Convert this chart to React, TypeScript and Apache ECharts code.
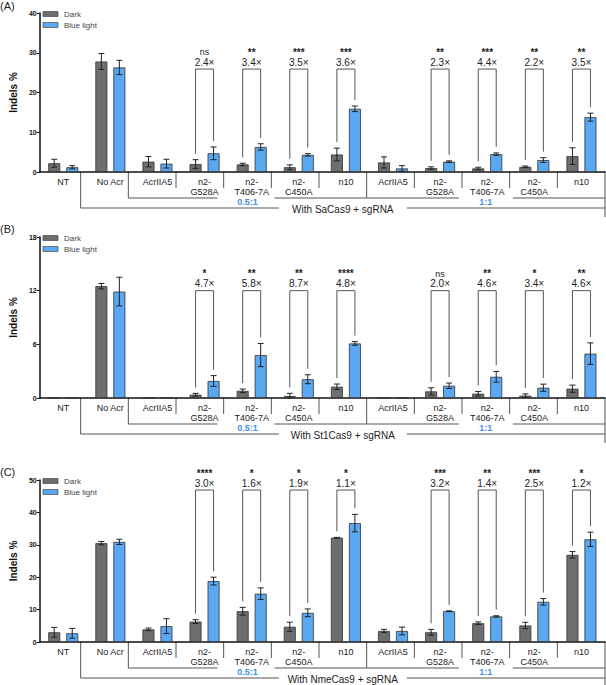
import { useEffect, useRef } from 'react';
import * as echarts from 'echarts';

const categories = ['NT', 'No Acr', 'AcrIIA5', 'n2-\nG528A', 'n2-\nT406-7A', 'n2-\nC450A', 'n10', 'AcrIIA5', 'n2-\nG528A', 'n2-\nT406-7A', 'n2-\nC450A', 'n10'];
const bracketGroups = [3, 4, 5, 6, 8, 9, 10, 11];

// Panel A (SaCas9)
const darkA = [2.2, 27.8, 2.6, 2.0, 1.9, 1.2, 4.4, 2.4, 1.0, 0.9, 1.3, 4.0];
const darkErrA = [1.0, 2.0, 1.3, 1.1, 0.3, 0.6, 1.6, 1.4, 0.3, 0.3, 0.2, 2.1];
const blueA = [1.2, 26.3, 2.1, 4.7, 6.3, 4.3, 15.9, 0.9, 2.6, 4.5, 3.0, 13.8];
const blueErrA = [0.4, 1.8, 1.1, 1.6, 0.8, 0.3, 0.7, 0.7, 0.2, 0.3, 0.6, 1.0];
const starsA = ['ns', '**', '***', '***', '**', '***', '**', '**'];
const foldA = ['2.4×', '3.4×', '3.5×', '3.6×', '2.3×', '4.4×', '2.2×', '3.5×'];

// Panel B (St1Cas9)
const darkB = [0, 12.5, 0, 0.37, 0.8, 0.22, 1.26, 0, 0.74, 0.48, 0.26, 1.04];
const darkErrB = [0, 0.3, 0, 0.15, 0.2, 0.3, 0.3, 0, 0.4, 0.25, 0.2, 0.4];
const blueB = [0, 11.9, 0, 1.9, 4.8, 2.1, 6.1, 0, 1.37, 2.37, 1.15, 4.96];
const blueErrB = [0, 1.6, 0, 0.6, 1.3, 0.5, 0.2, 0, 0.3, 0.6, 0.4, 1.2];
const starsB = ['*', '**', '**', '****', 'ns', '**', '*', '**'];
const foldB = ['4.7×', '5.8×', '8.7×', '4.8×', '2.0×', '4.6×', '3.4×', '4.6×'];

// Panel C (NmeCas9)
const darkC = [3.0, 30.5, 3.9, 6.3, 9.5, 4.7, 32.2, 3.4, 3.0, 5.8, 5.1, 26.9];
const darkErrC = [1.5, 0.5, 0.4, 0.6, 1.2, 1.4, 0.1, 0.5, 0.9, 0.4, 1.0, 1.0];
const blueC = [2.7, 30.9, 4.9, 18.8, 14.9, 9.0, 36.7, 3.4, 9.5, 7.9, 12.4, 31.7];
const blueErrC = [1.5, 0.8, 2.3, 1.2, 1.8, 1.2, 2.7, 1.2, 0.1, 0.2, 1.0, 2.2];
const starsC = ['****', '*', '*', '*', '***', '**', '***', '*'];
const foldC = ['3.0×', '1.6×', '1.9×', '1.1×', '3.2×', '1.4×', '2.5×', '1.2×'];

const FONT = '"Liberation Sans", Arial, sans-serif';
const DARK = '#6e6e6e';
const BLUE = '#5ba8f2';
const LINE = '#555';
const X0 = 33;
const X1 = 605;
const GW = (X1 - X0) / 12;

const panels = [
  { letter: '(A)', top: 13, bottom: 172, max: 40, interval: 10, bracket: 25.9, cas: 'SaCas9', dark: darkA, darkErr: darkErrA, blue: blueA, blueErr: blueErrA, stars: starsA, fold: foldA },
  { letter: '(B)', top: 237, bottom: 398, max: 18, interval: 6, bracket: 12, cas: 'St1Cas9', dark: darkB, darkErr: darkErrB, blue: blueB, blueErr: blueErrB, stars: starsB, fold: foldB },
  { letter: '(C)', top: 480, bottom: 642, max: 50, interval: 10, bracket: 46.9, cas: 'NmeCas9', dark: darkC, darkErr: darkErrC, blue: blueC, blueErr: blueErrC, stars: starsC, fold: foldC },
];

function errSeries(idx: number, vals: number[], errs: number[], dx: number) {
  return {
    type: 'custom',
    xAxisIndex: idx,
    yAxisIndex: idx,
    silent: true,
    z: 5,
    encode: { x: 0, y: 1 },
    data: vals.map((v, i) => [i, v, errs[i]]),
    renderItem: (_p: any, api: any) => {
      const v = api.value(1);
      const e = api.value(2);
      if (v === 0 && e === 0) return null;
      const c = api.coord([api.value(0), v]);
      const hi = api.coord([api.value(0), v + e]);
      const lo = api.coord([api.value(0), Math.max(0, v - e)]);
      const x = c[0] + dx;
      const s = { stroke: '#222', lineWidth: 1 };
      return {
        type: 'group',
        children: [
          { type: 'line', shape: { x1: x, y1: lo[1], x2: x, y2: hi[1] }, style: s },
          { type: 'line', shape: { x1: x - 3, y1: hi[1], x2: x + 3, y2: hi[1] }, style: s },
          { type: 'line', shape: { x1: x - 3, y1: lo[1], x2: x + 3, y2: lo[1] }, style: s },
        ],
      };
    },
  };
}

function bracketSeries(idx: number, p: any) {
  return {
    type: 'custom',
    xAxisIndex: idx,
    yAxisIndex: idx,
    silent: true,
    z: 6,
    encode: { x: 0, y: 1 },
    data: bracketGroups.map((g) => [g, p.dark[g] + p.darkErr[g], p.blue[g] + p.blueErr[g], p.bracket]),
    renderItem: (params: any, api: any) => {
      const g = api.value(0);
      const d = api.coord([g, api.value(1)]);
      const b = api.coord([g, api.value(2)]);
      const t = api.coord([g, api.value(3)]);
      const xl = d[0] - 9;
      const xr = d[0] + 9;
      const k = params.dataIndex;
      return {
        type: 'group',
        children: [
          { type: 'polyline', shape: { points: [[xl, d[1] - 6], [xl, t[1]], [xr, t[1]], [xr, b[1] - 6]] }, style: { stroke: LINE, lineWidth: 1, fill: 'none' } },
          { type: 'text', style: { text: p.fold[k], x: d[0], y: t[1] - 7, align: 'center', verticalAlign: 'middle', font: `10px ${FONT}`, fill: '#222' } },
          { type: 'text', style: { text: p.stars[k], x: d[0], y: t[1] - 17, align: 'center', verticalAlign: 'middle', font: `${p.stars[k] === 'ns' ? 'normal 9px' : 'bold 10px'} ${FONT}`, fill: '#222' } },
        ],
      };
    },
  };
}

function panelGraphics(p: any) {
  const y0 = p.bottom;
  const out: any[] = [];
  const ls = { stroke: LINE, lineWidth: 1 };
  const line = (x1: number, y1: number, x2: number, y2: number) => out.push({ type: 'line', shape: { x1, y1, x2, y2 }, style: ls });
  const sx = (k: number) => X0 + k * GW;
  for (let k = 1; k < 12; k++) {
    const depth = k === 1 ? 36 : k === 2 || k === 7 ? 26 : 16;
    line(sx(k), y0, sx(k), y0 + depth);
  }
  line(X1, y0, X1, y0 + 45);
  const c1 = sx(4.5);
  const c2 = sx(9.5);
  line(sx(2), y0 + 26, c1 - 30, y0 + 26);
  line(c1 + 27, y0 + 26, sx(7), y0 + 26);
  line(sx(7), y0 + 26, c2 - 27, y0 + 26);
  line(c2 + 27, y0 + 26, X1, y0 + 26);
  const cw = (sx(1) + X1) / 2;
  line(sx(1), y0 + 36, cw - 64, y0 + 36);
  line(cw + 64, y0 + 36, X1, y0 + 36);
  const txt = (text: string, x: number, y: number, font: string, fill: string) =>
    out.push({ type: 'text', style: { text, x, y, align: 'center', verticalAlign: 'middle', font, fill } });
  txt('0.5:1', c1, y0 + 30, `bold 9px ${FONT}`, '#3f8fe6');
  txt('1:1', c2, y0 + 30, `bold 9px ${FONT}`, '#3f8fe6');
  txt(`With ${p.cas} + sgRNA`, cw, y0 + 37, `10px ${FONT}`, '#222');
  out.push({ type: 'text', style: { text: p.letter, x: 0, y: Math.max(0, p.top - 14), font: `11px ${FONT}`, fill: '#222', verticalAlign: 'top' } });
  const legend = [['Dark', DARK], ['Blue light', BLUE]];
  legend.forEach(([name, col], i) => {
    const ly = p.top + 1 + i * 11;
    out.push({ type: 'rect', shape: { x: 43, y: ly - 2.5, width: 15, height: 5 }, style: { fill: col, stroke: '#333', lineWidth: 0.6 } });
    out.push({ type: 'text', style: { text: name, x: 64, y: ly, verticalAlign: 'middle', font: `8px ${FONT}`, fill: '#444' } });
  });
  return out;
}

export default function App() {
  const ref = useRef<HTMLDivElement>(null);

  useEffect(() => {
    document.body.style.margin = '0';
    if (!ref.current) return;
    const chart = echarts.init(ref.current, null, { renderer: 'svg' });

    const grid = panels.map((p) => ({ left: X0, width: X1 - X0, top: p.top, height: p.bottom - p.top }));
    const xAxis = panels.map((_p, i) => ({
      type: 'category',
      gridIndex: i,
      data: categories,
      axisLine: { lineStyle: { color: '#111', width: 1.5 } },
      axisTick: { show: false },
      axisLabel: { interval: 0, fontFamily: FONT, fontSize: 9, color: '#222', margin: 5, lineHeight: 10 },
    }));
    const yAxis = panels.map((p, i) => ({
      type: 'value',
      gridIndex: i,
      min: 0,
      max: p.max,
      interval: p.interval,
      name: 'Indels %',
      nameLocation: 'middle',
      nameGap: 17,
      nameTextStyle: { fontFamily: FONT, fontSize: 10, fontWeight: 'bold', color: '#111' },
      axisLine: { show: true, lineStyle: { color: '#111', width: 1.5 } },
      axisTick: { show: true, length: 3, lineStyle: { color: '#111' } },
      splitLine: { show: false },
      axisLabel: { fontFamily: FONT, fontSize: 7, fontWeight: 'bold', color: '#111', margin: 3 },
    }));
    const series: any[] = [];
    panels.forEach((p, i) => {
      const barBase = { type: 'bar', xAxisIndex: i, yAxisIndex: i, barWidth: 12, barGap: '50%' };
      series.push({ ...barBase, name: 'Dark', data: p.dark, itemStyle: { color: DARK, borderColor: '#333', borderWidth: 0.8 } });
      series.push({ ...barBase, name: 'Blue light', data: p.blue, itemStyle: { color: BLUE, borderColor: '#333', borderWidth: 0.8 } });
      series.push(errSeries(i, p.dark, p.darkErr, -9));
      series.push(errSeries(i, p.blue, p.blueErr, 9));
      series.push(bracketSeries(i, p));
    });

    chart.setOption({
      animation: false,
      grid,
      xAxis,
      yAxis,
      series,
      graphic: panels.flatMap((p) => panelGraphics(p)),
    });

    return () => {
      chart.dispose();
    };
  }, []);

  return <div ref={ref} style={{ width: 606, height: 685 }} />;
}
